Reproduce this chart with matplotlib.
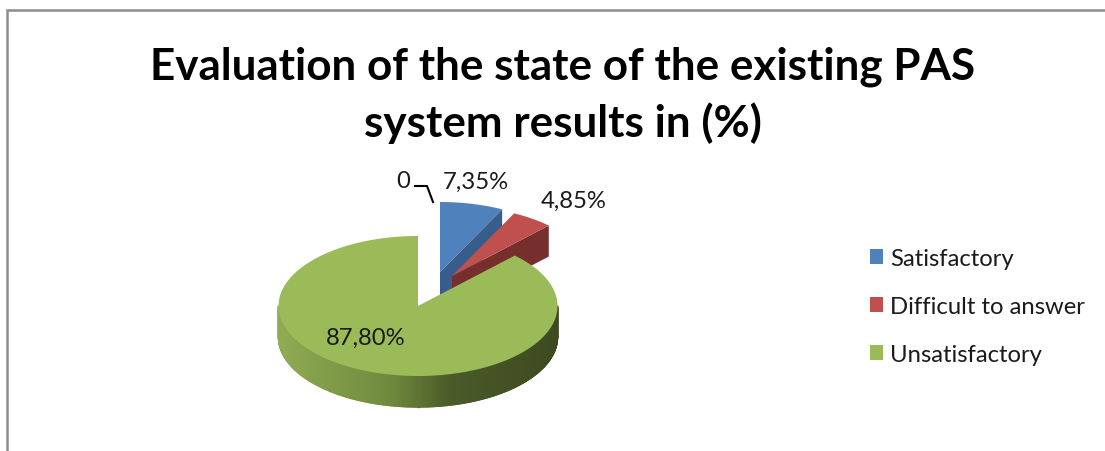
import numpy as np
import matplotlib
matplotlib.use("Agg")
import matplotlib.pyplot as plt
from matplotlib.collections import PolyCollection
from matplotlib.patches import Patch
from matplotlib.colors import LinearSegmentedColormap

plt.rcParams['font.family'] = ['Lato', 'DejaVu Sans']

title_lines = ["Evaluation of the state of the existing PAS", "system results in (%)"]
categories = ["Satisfactory", "Difficult to answer", "Unsatisfactory"]
shares = [7.35, 4.85, 87.80]
share_labels = ["7,35%", "4,85%", "87,80%"]
top_colors = ["#4F81BD", "#C0504D", "#9BBB59"]
side_colors = ["#385D8A", "#772F2D", "#6B8337"]

W, H = 1105, 452
RX, RY, DEPTH = 139.5, 70.0, 31.0
CENTER = (418.0, 307.0)
# Displacement of each slice's apex from the pie centre
offsets = [(22.0, -34.0), (34.0, -30.0), (0.0, 0.0)]
label_pos = [(476, 182), (574, 201), (366, 338)]

fig = plt.figure(figsize=(W / 100, H / 100), dpi=100, facecolor="white")
ax = fig.add_axes([0, 0, 1, 1])
ax.set_xlim(0, W)
ax.set_ylim(H, 0)
ax.axis("off")

# Chart frame: only the top and left edges fall inside the canvas
ax.plot([7, 7, W], [H, 11, 11], color="#8C8C8C", lw=1.8, solid_joinstyle="miter")


def rim(t, cx, cy, dy=0.0):
    """Point on the ellipse; t is the clockwise angle from 12 o'clock in radians."""
    return np.column_stack([cx + RX * np.sin(t), cy - RY * np.cos(t) + dy])


edges = np.radians(np.concatenate([[0], np.cumsum(shares)]) * 3.6)

# Blue and red sit behind the green slice, so they are painted first
for i in (0, 1):
    cx, cy = CENTER[0] + offsets[i][0], CENTER[1] + offsets[i][1]
    t = np.linspace(edges[i], edges[i + 1], 40)
    end = rim(np.array([edges[i + 1]]), cx, cy)[0]
    ax.fill([cx, end[0], end[0], cx], [cy, end[1], end[1] + DEPTH, cy + DEPTH],
            color=side_colors[i], lw=0, zorder=2 + i)
    top = np.vstack([[cx, cy], rim(t, cx, cy)])
    ax.fill(top[:, 0], top[:, 1], color=top_colors[i], lw=0, zorder=2 + i)

# Green slice: shaded outer wall, then the flat top
cx, cy = CENTER
shade = LinearSegmentedColormap.from_list(
    "wall", [(0, "#8FAB54"), (0.40, "#6F8A3D"), (0.62, "#4A5A28"), (1, "#3D4A21")])
t = np.linspace(np.pi / 2, 3 * np.pi / 2, 400)
upper = rim(t, cx, cy)
lower = rim(t, cx, cy, DEPTH)
quads = [np.vstack([upper[k], upper[k + 1], lower[k + 1], lower[k]]) for k in range(len(t) - 1)]
fracs = (upper[:-1, 0] - (cx - RX)) / (2 * RX)
ax.add_collection(PolyCollection(quads, facecolors=shade(fracs), edgecolors=shade(fracs),
                                 linewidths=1.0, zorder=5))
t = np.linspace(edges[2], edges[3], 300)
top = np.vstack([[cx, cy], rim(t, cx, cy)])
ax.fill(top[:, 0], top[:, 1], color=top_colors[2], lw=0, zorder=6)

for (x, y), text in zip(label_pos, share_labels):
    ax.text(x, y, text, ha="center", va="center", fontsize=17.2, color="#1A1A1A", zorder=8)

# Label and leader line for the zero-valued point
ax.text(403, 182, "0", ha="center", va="center", fontsize=17.2, color="#1A1A1A", zorder=8)
ax.plot([415, 427, 433], [187, 187, 203], color="black", lw=1.5, zorder=8)

for y, line in zip((67, 123), title_lines):
    ax.text(563, y, line, ha="center", va="center", fontsize=31.7, fontweight="bold", color="black")

handles = [Patch(facecolor=c, edgecolor="none") for c in top_colors]
ax.legend(handles, categories, loc="center left", bbox_to_anchor=(870 / W, 1 - 307.5 / H),
          frameon=False, fontsize=17.2, labelcolor="#1A1A1A", handlelength=0.54, handleheight=0.54,
          handletextpad=0.3, labelspacing=1.13, borderpad=0, borderaxespad=0)

fig.savefig("out.png", dpi=100)
